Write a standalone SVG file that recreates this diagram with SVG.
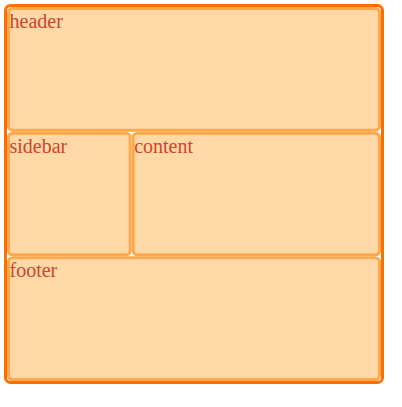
<svg xmlns="http://www.w3.org/2000/svg" width="402" height="407" viewBox="0 0 402 407">
<style>
.item{fill:#ffd8a8;stroke:#ffa94d;stroke-width:3}
.lbl{font-family:"Liberation Serif",serif;font-size:20px;fill:#d0452a}
</style>
<rect width="402" height="407" fill="#ffffff"/>
<g id="container">
<rect x="5.5" y="5.5" width="377" height="377" rx="5" fill="#ffffff" stroke="#ff6f00" stroke-width="3"/>
</g>
<g id="header">
<rect class="item" x="8.5" y="8.5" width="371" height="121.67" rx="4"/>
<text class="lbl" x="9.5" y="28">header</text>
</g>
<g id="sidebar">
<rect class="item" x="8.5" y="133.17" width="121.67" height="121.67" rx="4"/>
<text class="lbl" x="9.5" y="152.7">sidebar</text>
</g>
<g id="content">
<rect class="item" x="133.17" y="133.17" width="246.33" height="121.67" rx="4"/>
<text class="lbl" x="134.2" y="152.7">content</text>
</g>
<g id="footer">
<rect class="item" x="8.5" y="257.83" width="371" height="121.67" rx="4"/>
<text class="lbl" x="9.5" y="277.3">footer</text>
</g>
<g id="connectors"/>
</svg>
